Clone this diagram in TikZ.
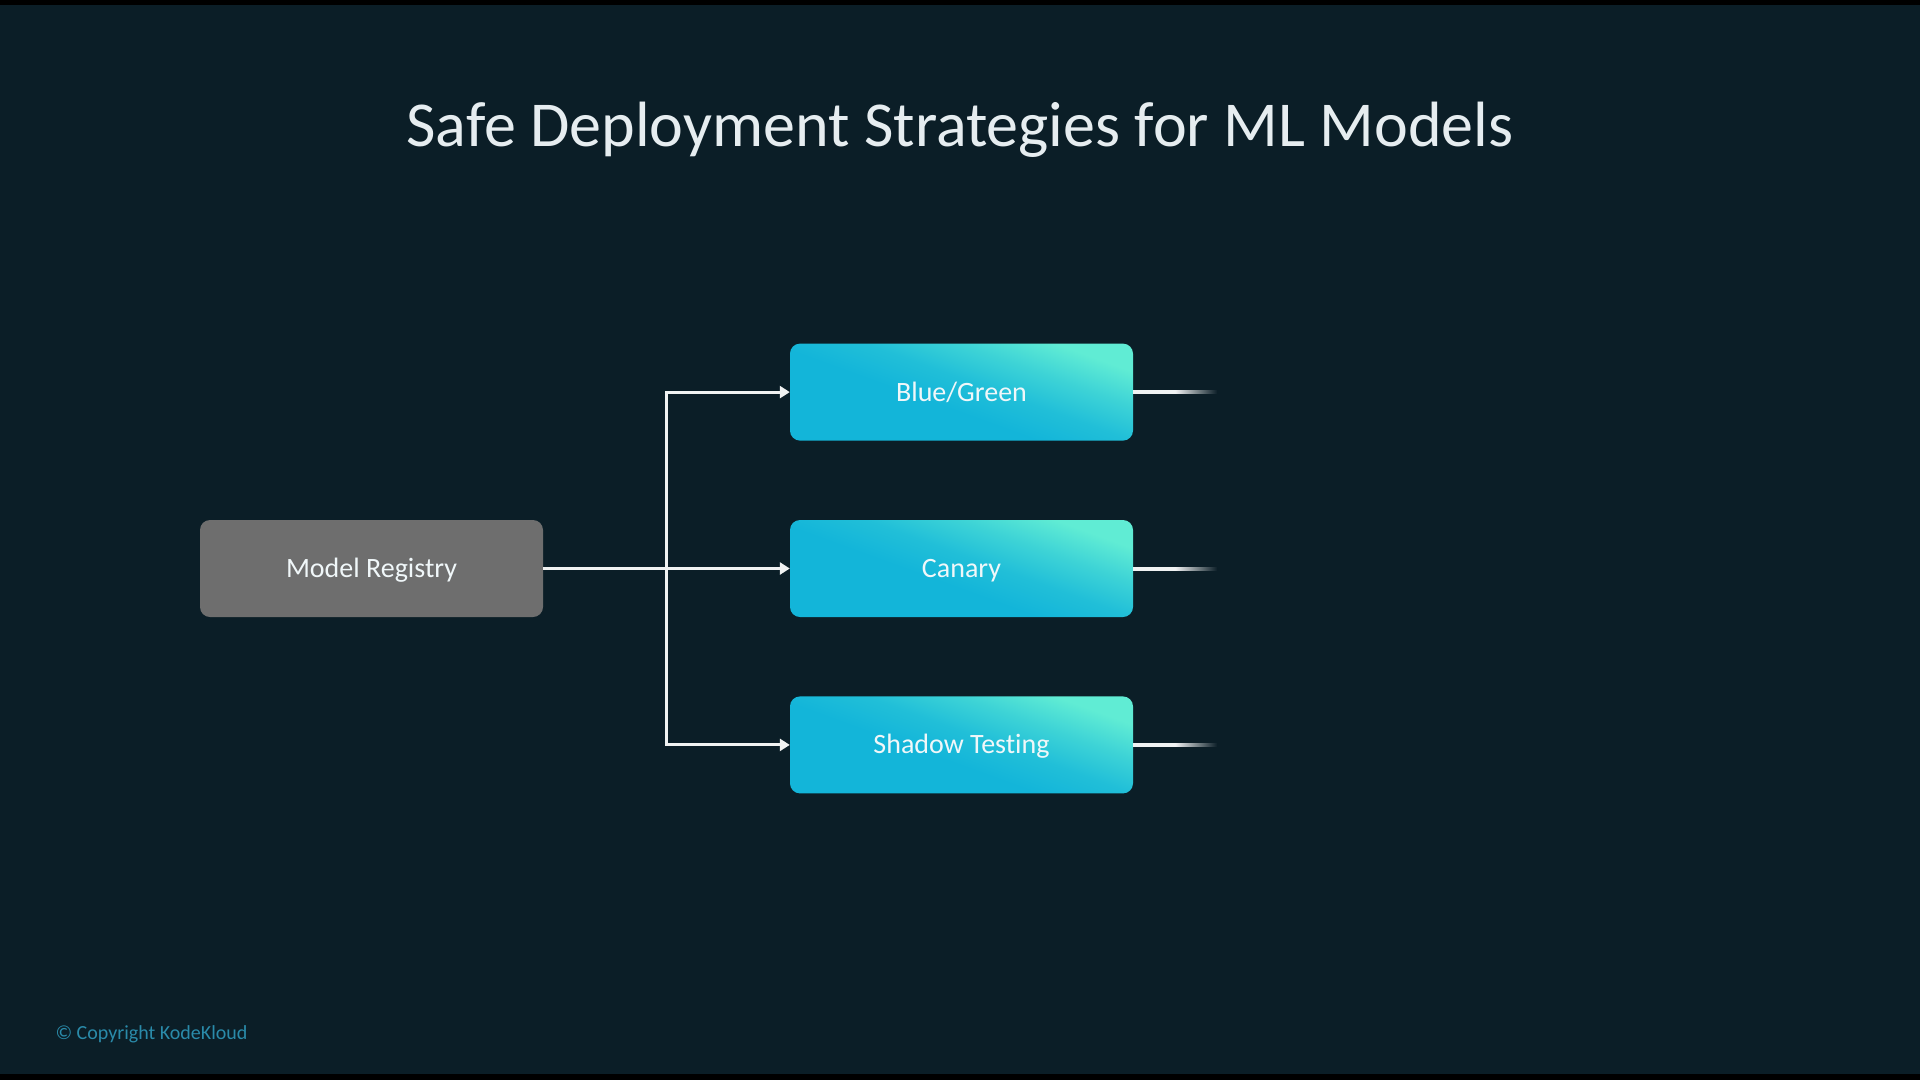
\documentclass[tikz,border=0pt]{standalone}
\usepackage{fontspec}
\setmainfont{Carlito}[Ligatures=NoCommon]
\usetikzlibrary{positioning}
\usetikzlibrary{arrows.meta}
\definecolor{slide}{HTML}{0B1E27}
\definecolor{boxgray}{HTML}{6E6E6E}
\definecolor{cyanlo}{HTML}{13B5D9}
\definecolor{aquahi}{HTML}{60ECD4}
\definecolor{inktext}{HTML}{F0F7F9}
\definecolor{titletext}{HTML}{E6EDF0}
\definecolor{copytext}{HTML}{2A8BAA}
\colorlet{wire}{white!94!slide}
\colorlet{cyanmid}{cyanlo!82!aquahi}
\colorlet{cyanup}{cyanlo!45!aquahi}
% cyan with the aqua kept to one corner
\pgfdeclareverticalshading{stratfill}{100bp}{color(0bp)=(aquahi); color(26bp)=(aquahi); color(36bp)=(cyanup); color(46bp)=(cyanmid); color(56bp)=(cyanlo); color(100bp)=(cyanlo)}
\tikzset{>={Triangle[length=10pt,width=12pt]}}
\tikzset{link/.style={draw=wire, line width=3pt}}
\tikzset{src/.style={fill=boxgray, rounded corners=10pt, minimum width=343pt, minimum height=97pt, inner sep=0pt, text height=18pt, text depth=0pt, text=inktext, font=\fontsize{28}{34}\selectfont}}
\tikzset{strat/.style={src, fill=none, shade, shading=stratfill, shading angle=160}}
\tikzset{tailshade/.style={left color=wire, right color=slide, middle color=wire}}

\begin{document}
\begin{tikzpicture}[x=1pt,y=-1pt]
\useasboundingbox (0,0) rectangle (1920,1080);
\fill[slide] (0,0) rectangle (1920,1080);
\fill[black] (0,0) rectangle (1920,5);
\fill[black] (0,1074) rectangle (1920,1080);

\node[anchor=base, text=titletext, font=\fontsize{64}{77}\selectfont] (title) at (960,146) {Safe Deployment Strategies for ML Models};

\node[src] (reg) at (371.5,568.5) {Model Registry};
\node[strat] (can) at (961.5,568.5) {Canary};
\node[strat] (bg) [above=79pt of can] {Blue/Green};
\node[strat] (sh) [below=79pt of can] {Shadow Testing};

\coordinate (fork) at (666,568.5);
\draw[link,->] (reg) -- (can);
\draw[link,->] (fork) |- (bg);
\draw[link,->] (fork) |- (sh);

% short fading tails on the right
\coordinate[right=84pt of bg.east] (bgtail);
\coordinate[right=84pt of can.east] (cantail);
\coordinate[right=84pt of sh.east] (shtail);
\shade[tailshade] ([yshift=-1.5pt]bg.east) rectangle ([yshift=1.5pt]bgtail);
\shade[tailshade] ([yshift=-1.5pt]can.east) rectangle ([yshift=1.5pt]cantail);
\shade[tailshade] ([yshift=-1.5pt]sh.east) rectangle ([yshift=1.5pt]shtail);

\node[anchor=base west, text=copytext, font=\fontsize{20}{24}\selectfont] (copy) at (52,1039) {© Copyright KodeKloud};
\end{tikzpicture}
\end{document}
